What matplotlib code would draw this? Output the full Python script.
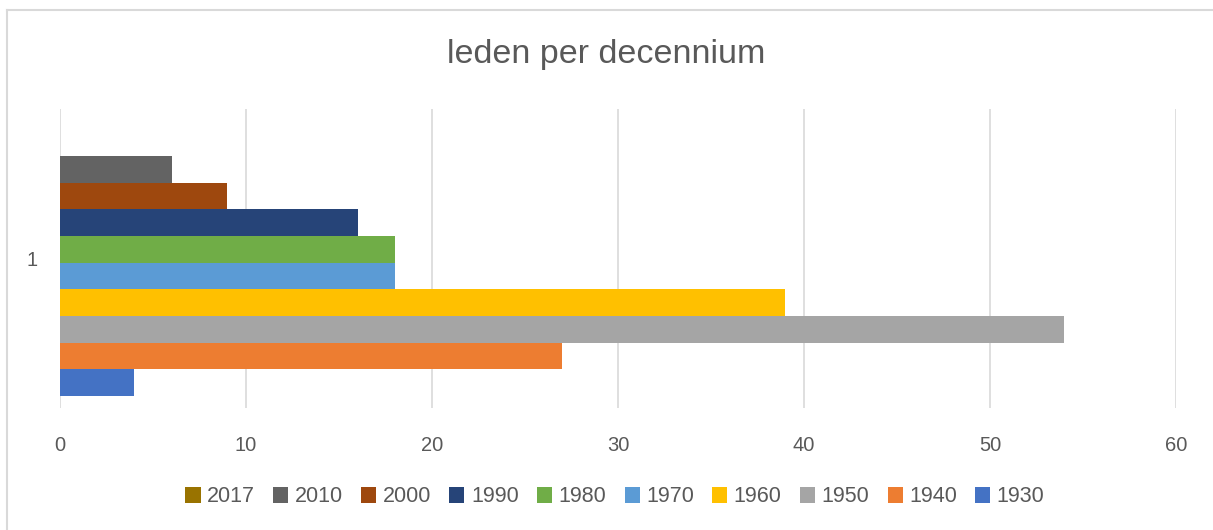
import matplotlib.pyplot as plt
from matplotlib.lines import Line2D

# data
series = ['1930', '1940', '1950', '1960', '1970', '1980', '1990', '2000', '2010', '2017']
values = [4, 27, 54, 39, 18, 18, 16, 9, 6, 0]
colors = ['#4472C4', '#ED7D31', '#A5A5A5', '#FFC000', '#5B9BD5',
          '#70AD47', '#264478', '#9E480E', '#636363', '#997300']
category = '1'
xticks = [0, 10, 20, 30, 40, 50, 60]

W, H = 1213, 530
fig = plt.figure(figsize=(W / 100, H / 100), dpi=100, facecolor='white')
plt.rcParams['font.family'] = ['Liberation Sans', 'DejaVu Sans']

# chart border: only top and left edges are visible
bx, by = 7 / W, 1 - 10 / H
fig.add_artist(Line2D([bx, 1.0], [by, by], transform=fig.transFigure,
                      color='#D9D9D9', linewidth=1.5))
fig.add_artist(Line2D([bx, bx], [0.0, by], transform=fig.transFigure,
                      color='#D9D9D9', linewidth=1.5))

left, right, top, bottom = 60, 1176, 109, 408
ax = fig.add_axes([left / W, (H - bottom) / H, (right - left) / W, (bottom - top) / H])

bar_h = 0.089
n = len(series)
start = -0.5 + (1 - n * bar_h) / 2 - 0.014
for i, (s, v, c) in enumerate(zip(series, values, colors)):
    ax.barh(start + (i + 0.5) * bar_h, v, height=bar_h, color=c, label=s, zorder=3)

ax.set_xlim(0, 60)
ax.set_ylim(-0.5, 0.5)
ax.set_xticks(xticks)
ax.set_yticks([0])
ax.set_yticklabels([category])
ax.grid(axis='x', color='#D9D9D9', linewidth=1.2, zorder=0)
for sp in ax.spines.values():
    sp.set_visible(False)
ax.tick_params(length=0, labelsize=14.5, labelcolor='#595959')
ax.tick_params(axis='x', pad=20)
ax.tick_params(axis='y', pad=16)

fig.text(0.5, 1 - 55 / H, 'leden per decennium', ha='center', va='center',
         fontsize=24.5, color='#595959')

handles, labels = ax.get_legend_handles_labels()
fig.legend(handles[::-1], labels[::-1], loc='center', bbox_to_anchor=(0.507, 1 - 497 / H),
           ncol=n, frameon=False, fontsize=15.5, labelcolor='#595959',
           handlelength=0.7, handleheight=0.7, handletextpad=0.3, columnspacing=0.85)

fig.savefig('out.png', dpi=100, facecolor='white')
